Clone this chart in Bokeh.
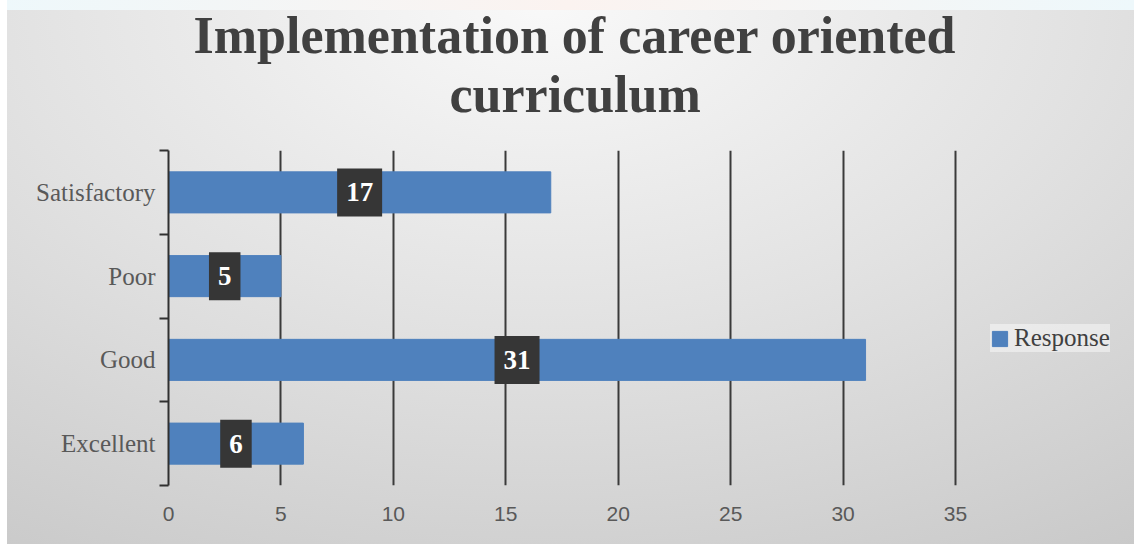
from bokeh.plotting import figure
from bokeh.models import Range1d, FixedTicker, Title, Legend, LegendItem, ColumnDataSource
from bokeh.core.properties import value
from bokeh.embed import file_html
from bokeh.resources import INLINE

categories = ["Excellent", "Good", "Poor", "Satisfactory"]
responses = [6, 31, 5, 17]
x_ticks = [0, 5, 10, 15, 20, 25, 30, 35]
title_lines = ["Implementation of career oriented", "curriculum"]
series_name = "Response"

ypos = [i + 0.5 for i in range(len(categories))]
bounds = list(range(len(categories) + 1))
src = ColumnDataSource(dict(
    y=ypos, v=responses, mid=[v / 2 for v in responses], lab=[str(v) for v in responses]))

# frame spans to the right edge so the legend can sit inside it; axis value 35 lands at x=955
W, H, LEFT, AX_RIGHT = 1134, 544, 168, 955
x_end = x_ticks[-1] * (W - LEFT) / (AX_RIGHT - LEFT)

p = figure(width=W, height=H, output_backend="svg", toolbar_location=None, title=None,
           x_range=Range1d(x_ticks[0], x_end), y_range=Range1d(0, len(categories)),
           min_border_left=LEFT, min_border_right=0, min_border_top=150, min_border_bottom=59)
p.background_fill_alpha = 0
p.border_fill_alpha = 0
p.outline_line_color = None
p.styles = {"background": (
    "linear-gradient(#ffffff, #ffffff) left top / 7px 100% no-repeat, "
    "linear-gradient(to right, #eef8fb, #fbf3f0, #eef8fb) left top / 100% 10px no-repeat, "
    "radial-gradient(ellipse 95% 120% at 48% 0%, #f9f9f9 0%, #e2e2e2 50%, #c9c9c9 100%)")}

# spacer between the plot and the title lines
p.add_layout(Title(text=" ", text_font_size="23px", standoff=0), "above")
title_offsets = [25, 281]
for txt, off in reversed(list(zip(title_lines, title_offsets))):
    p.add_layout(Title(text=txt, align="left", offset=off, text_font="Liberation Serif",
                       text_font_size="52px", text_font_style="bold", text_color="#404040",
                       standoff=0), "above")

bars = p.hbar(y="y", right="v", left=0, height=0.49, source=src,
              fill_color="#4f81bd", line_color="#4f81bd")

p.text(x="mid", y="y", text="lab", source=src, text_align="center", text_baseline="middle",
       text_font=value("Liberation Serif"), text_font_size="27px", text_font_style="bold",
       text_color="white", background_fill_color="#363636",
       padding=dict(left=9, right=9, top=15, bottom=15))

# x axis
p.xaxis.ticker = FixedTicker(ticks=x_ticks)
p.xaxis.axis_line_color = None
p.xaxis.major_tick_line_color = None
p.xaxis.minor_tick_line_color = None
p.xaxis.major_label_text_font = "Liberation Sans"
p.xaxis.major_label_text_font_size = "21px"
p.xaxis.major_label_text_color = "#595959"
p.xaxis.major_label_standoff = 15

# y axis
p.yaxis.ticker = FixedTicker(ticks=ypos, minor_ticks=bounds)
p.yaxis.major_label_overrides = {y: c for y, c in zip(ypos, categories)}
p.yaxis.axis_line_color = "#303030"
p.yaxis.axis_line_width = 2
p.yaxis.major_tick_line_color = None
p.yaxis.major_tick_out = 0
p.yaxis.major_tick_in = 0
p.yaxis.minor_tick_line_color = "#303030"
p.yaxis.minor_tick_line_width = 2
p.yaxis.minor_tick_out = 9
p.yaxis.minor_tick_in = 0
p.yaxis.major_label_text_font = "Liberation Serif"
p.yaxis.major_label_text_font_size = "25px"
p.yaxis.major_label_text_color = "#595959"
p.yaxis.major_label_standoff = 4

p.xgrid.ticker = FixedTicker(ticks=x_ticks)
p.xgrid.grid_line_color = "#3a3a3a"
p.xgrid.grid_line_width = 2
p.ygrid.grid_line_color = None

legend = Legend(items=[LegendItem(label=series_name, renderers=[bars])], location=(822, 133),
                orientation="vertical", padding=3, margin=0, spacing=0,
                glyph_width=19, glyph_height=19, label_standoff=5,
                label_text_font="Liberation Serif", label_text_font_size="25px",
                label_text_color="#404040", background_fill_color="white",
                background_fill_alpha=0.45, border_line_color=None)
p.add_layout(legend, "center")

open("out.html", "w").write(file_html(p, INLINE))
